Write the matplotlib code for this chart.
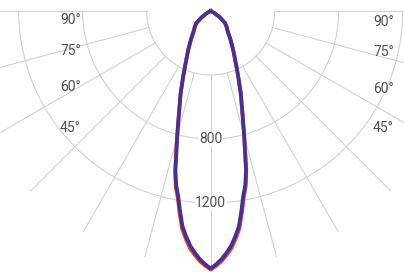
import numpy as np
import matplotlib
matplotlib.use("Agg")
import matplotlib.pyplot as plt

# polar intensity curve (cd), angle from nadir in degrees
angles = [0, 1.25, 2.5, 3.75, 5, 6.25, 7.5, 8.75, 10, 11.25, 12.5, 13.75, 15, 16.25, 17.5, 18.75, 20,
          22.5, 25, 30, 35, 40, 45, 50, 55, 60, 65, 70, 75, 80, 85, 90]
c0_c180 = [1610, 1583, 1553, 1514, 1472, 1416, 1355, 1262, 1172, 1108, 1019, 901, 807, 724, 655, 598, 550,
           453, 379, 281, 214, 165, 141, 117, 70, 30, 5, 0, 0, 0, 0, 0]
c90_c270 = [1616, 1592, 1565, 1528, 1488, 1432, 1372, 1278, 1186, 1120, 1028, 908, 812, 727, 657, 599, 551,
            453, 379, 281, 214, 165, 141, 117, 70, 30, 5, 0, 0, 0, 0, 0]

rings = [400, 800, 1200]
ring_labels = ["800", "1200"]
spoke_angles = [-90, -75, -60, -45, -30, -15, 0, 15, 30, 45, 60, 75, 90]
angle_labels = ["90°", "75°", "60°", "45°"]

W, H = 404, 272
RMAX = 1700
px_per_unit = 64 / 400
cx, cy = 210.7, H - 11   # centre of the diagram in pixels (from bottom-left)

fig = plt.figure(figsize=(W / 100, H / 100), dpi=100)
side = 2 * RMAX * px_per_unit
ax = fig.add_axes([(cx - side / 2) / W, (cy - side / 2) / H, side / W, side / H], projection="polar")
ax.set_theta_zero_location("S")
ax.set_theta_direction(1)
ax.set_ylim(0, RMAX)
ax.grid(False)
ax.set_xticks([])
ax.set_yticks([])
ax.spines["polar"].set_visible(False)
ax.patch.set_alpha(0)

grid_col = "#d2d2d2"
half = np.radians(np.linspace(-90, 90, 181))
for r in rings:
    ax.plot(half, np.full_like(half, r), color=grid_col, lw=0.8, zorder=1)
for a in spoke_angles:
    t = np.radians(a)
    ax.plot([t, t], [400, 1590], color=grid_col, lw=0.8, zorder=1)


def closed(vals):
    th = np.radians(np.array(angles))
    rr = np.array(vals, dtype=float)
    return np.concatenate([-th[::-1], th[1:]]), np.concatenate([rr[::-1], rr[1:]])


t1, r1 = closed(c90_c270)
ax.plot(t1, r1, color="#e2452f", lw=2.7, zorder=3, solid_joinstyle="round")
t2, r2 = closed(c0_c180)
ax.plot(t2, r2, color="#4a2f8f", lw=2.7, zorder=4, solid_joinstyle="round")

txt_col = "#505050"
for r, lab in zip(rings[1:], ring_labels):
    ax.text(0, r, lab, ha="center", va="center", fontsize=10, color=txt_col,
            family="Roboto", zorder=2,
            bbox=dict(facecolor="white", edgecolor="none", pad=0.3))

left_y = [20, 51, 87, 127.5]
right_y = [21.5, 51.5, 88.5, 128.5]
for lab, yl, yr in zip(angle_labels, left_y, right_y):
    fig.text(81 / W, 1 - yl / H, lab, ha="right", va="center", fontsize=10,
             color=txt_col, family="Roboto")
    fig.text(373 / W, 1 - yr / H, lab, ha="left", va="center", fontsize=10,
             color=txt_col, family="Roboto")

fig.savefig("out.png", dpi=100, facecolor="white")
